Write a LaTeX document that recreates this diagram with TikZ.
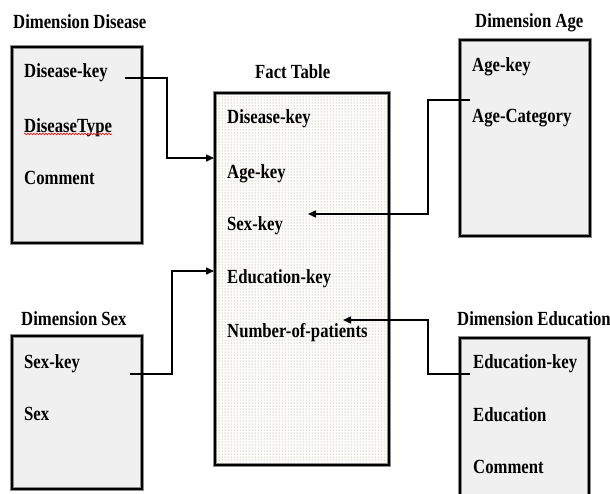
\documentclass[tikz,border=0pt]{standalone}
\usepackage{fontspec}
\setmainfont{Liberation Serif}
\usetikzlibrary{arrows.meta,patterns,decorations.pathmorphing}
\definecolor{boxfill}{RGB}{240,240,240}
\definecolor{dotcol}{RGB}{150,142,90}
\newcommand\tx[1]{\scalebox{1}[1.2]{#1}}
\tikzset{
  lbl/.style={anchor=base west,inner sep=0pt,font=\fontsize{16.7}{18}\selectfont\bfseries},
  dimbox/.style={fill=boxfill,draw=none},
  boxedge/.style={draw=black,line width=2.6pt},
  boxhalo/.style={draw=black!45,line width=4.2pt},
  conn/.style={line width=1.5pt,draw=black},
  arr/.style={conn,-{Triangle[length=8pt,width=7pt]}}
}
\begin{document}
\begin{tikzpicture}[x=1pt,y=-1pt]
\useasboundingbox (0,0) rectangle (610,493);
% boxes
\foreach \a/\b/\c/\d in {12/47/142/243, 460/40/590/236, 12/336/142/489, 460/338/589/515}{
  \fill[boxfill] (\a,\b) rectangle (\c,\d);
  \draw[boxhalo] (\a,\b) rectangle (\c,\d);
  \draw[boxedge] (\a,\b) rectangle (\c,\d);
}
\fill[white] (215,93) rectangle (389,465);
\fill[pattern=dots,pattern color=dotcol] (215,93) rectangle (389,465);
\draw[boxhalo] (215,93) rectangle (389,465);
\draw[boxedge] (215,93) rectangle (389,465);
\node (fact) at (302,279) [minimum width=174pt,minimum height=372pt,inner sep=0pt] {};

% titles
\node[lbl] (tdis) at (13,28) {\tx{Dimension Disease}};
\node[lbl] (tfact) at (255,78) {\tx{Fact Table}};
\node[lbl] (tage) at (475,27) {\tx{Dimension Age}};
\node[lbl] (tsex) at (21,325) {\tx{Dimension Sex}};
\node[lbl] (tedu) at (457,325) {\tx{Dimension Education}};

% Dimension Disease
\node[lbl] (dk) at (24,77) {\tx{Disease-key}};
\node[lbl] (dt) at (24,132) {\tx{DiseaseType}};
\node[lbl] (dc) at (24,184) {\tx{Comment}};
\draw[red,line width=0.6pt,decorate,decoration={snake,amplitude=0.8pt,segment length=3pt}]
  ([yshift=-2pt]dt.base west) -- ([yshift=-2pt]dt.base east);

% Fact table
\node[lbl] (fdk) at (227,123) {\tx{Disease-key}};
\node[lbl] (fak) at (227,178) {\tx{Age-key}};
\node[lbl] (fsk) at (227,230) {\tx{Sex-key}};
\node[lbl] (fek) at (227,283) {\tx{Education-key}};
\node[lbl] (fnp) at (227,337) {\tx{Number-of-patients}};

% Dimension Age
\node[lbl] (ak) at (472,71) {\tx{Age-key}};
\node[lbl] (ac) at (472,122) {\tx{Age-Category}};

% Dimension Sex
\node[lbl] (sk) at (24,368) {\tx{Sex-key}};
\node[lbl] (ss) at (24,420) {\tx{Sex}};

% Dimension Education
\node[lbl] (ek) at (473,368) {\tx{Education-key}};
\node[lbl] (ee) at (473,421) {\tx{Education}};
\node[lbl] (ec) at (473,473) {\tx{Comment}};

% connector end points
\coordinate (c1s) at (125,78);
\coordinate (c1e) at (214,158);
\coordinate (c2s) at (470,100);
\coordinate (c2e) at (308,214);
\coordinate (c3s) at (130,374);
\coordinate (c3e) at (214,271);
\coordinate (c4s) at (470,374);
\coordinate (c4e) at (343,320);

\draw[arr] (c1s) -- (167,78) |- (c1e);
\draw[arr] (c2s) -- (428,100) |- (c2e);
\draw[arr] (c3s) -- (172,374) |- (c3e);
\draw[arr] (c4s) -- (428,374) |- (c4e);
\end{tikzpicture}
\end{document}
